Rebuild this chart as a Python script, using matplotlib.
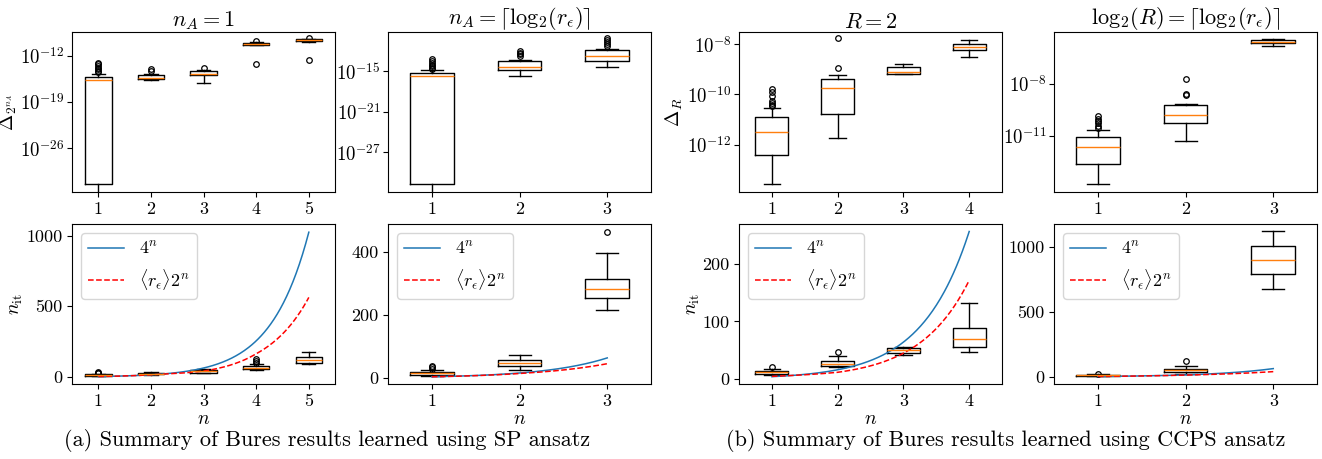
import numpy as np
import matplotlib
matplotlib.use("Agg")
import matplotlib.pyplot as plt

plt.rcParams["mathtext.fontset"] = "cm"
plt.rcParams["font.family"] = "serif"
plt.rcParams["font.serif"] = ["cmr10"]
plt.rcParams["axes.formatter.use_mathtext"] = True
plt.rcParams["axes.unicode_minus"] = False

# ---- top row: log10 of the Bures error ----
# SP ansatz, n_A = 1
sp1_med = [-15.7, -15.4, -14.7, -10.25, -9.7]
sp1_q1 = [-31.4, -15.6, -14.9, -10.35, -9.85]
sp1_q3 = [-15.2, -14.9, -14.3, -10.1, -9.5]
sp1_lo = [-40.0, -15.7, -16.2, -10.45, -9.9]
sp1_hi = [-14.8, -14.7, -14.1, -10.0, -9.45]
sp1_fl = [[-13.1, -13.3, -13.6, -13.8, -14.0, -14.3, -14.5], [-14.0, -14.3], [-13.9], [-9.85, -13.3], [-9.3, -12.65]]

# SP ansatz, n_A = ceil(log2 r)
sp2_med = [-15.7, -14.35, -12.7]
sp2_q1 = [-31.7, -14.8, -13.45]
sp2_q3 = [-15.2, -13.4, -11.85]
sp2_lo = [-40.0, -15.65, -14.4]
sp2_hi = [-14.85, -13.3, -11.75]
sp2_fl = [[-13.2, -13.5, -13.8, -14.0, -14.2, -14.5, -14.7], [-12.0, -12.3, -12.5, -12.8], [-10.0, -10.3, -10.6, -10.9, -11.2]]

# CCPS ansatz, R = 2
cc1_med = [-11.5, -9.74, -9.13, -8.11]
cc1_q1 = [-12.42, -10.77, -9.17, -8.23]
cc1_q3 = [-10.91, -9.38, -8.93, -8.0]
cc1_lo = [-13.56, -11.72, -9.19, -8.5]
cc1_hi = [-10.54, -9.23, -8.78, -7.85]
cc1_fl = [[-9.79, -9.92, -10.08, -10.28, -10.35, -10.41, -10.48], [-7.77, -8.95], [], []]

# CCPS ansatz, log2 R = ceil(log2 r)
cc2_med = [-11.66, -9.78, -5.54]
cc2_q1 = [-12.63, -10.26, -5.64]
cc2_q3 = [-11.06, -9.22, -5.45]
cc2_lo = [-13.81, -11.33, -5.77]
cc2_hi = [-10.67, -9.16, -5.37]
cc2_fl = [[-9.88, -10.02, -10.13, -10.27, -10.42, -10.54], [-7.69, -8.58, -8.65], []]

# ---- bottom row: number of iterations ----
it1_med = [12, 24, 40, 66, 118]
it1_q1 = [9, 19, 31, 56, 96]
it1_q3 = [21, 31, 49, 80, 144]
it1_lo = [5, 14, 28, 49, 89]
it1_hi = [24, 35, 54, 94, 174]
it1_fl = [[28, 32, 35], [], [], [101, 115, 129], []]
it1_reps = [2.0, 4.0, 5.3, 10.3, 17.6]

it2_med = [15, 48, 284]
it2_q1 = [11, 37, 253]
it2_q3 = [19, 56, 316]
it2_lo = [6, 25, 215]
it2_hi = [24, 72, 398]
it2_fl = [[29, 34, 39], [], [466]]
it2_reps = [2.0, 3.6, 5.7]

it3_med = [11.6, 26.6, 50, 70]
it3_q1 = [8.7, 21.7, 45, 55.5]
it3_q3 = [14.5, 30.6, 54, 89]
it3_lo = [7.5, 20.8, 41, 46]
it3_hi = [18, 40.5, 56, 132]
it3_fl = [[20], [47.4], [], []]
it3_reps = [2.3, 2.9, 5.6, 10.7]

it4_med = [13, 54, 895]
it4_q1 = [8, 38, 788]
it4_q3 = [18, 64, 1008]
it4_lo = [5, 26, 676]
it4_hi = [20, 87, 1117]
it4_fl = [[25], [125], []]
it4_reps = [2.0, 3.6, 5.1]


def make_stats(med, q1, q3, lo, hi, fl, log=False):
    f = (lambda v: 10.0 ** np.asarray(v, dtype=float)) if log else (lambda v: np.asarray(v, dtype=float))
    stats = []
    for i in range(len(med)):
        stats.append(dict(med=float(f(med[i])), q1=float(f(q1[i])), q3=float(f(q3[i])),
                          whislo=float(f(lo[i])), whishi=float(f(hi[i])), fliers=f(fl[i])))
    return stats


fig = plt.figure(figsize=(13.22, 4.59), dpi=100)

lefts = [0.0545, 0.2935, 0.559, 0.7973]
width = 0.199
top_b, bot_b, h = 0.5817, 0.1634, 0.3486

flierprops = dict(marker="o", markersize=4, markerfacecolor="none", markeredgecolor="k", markeredgewidth=0.9)
boxkw = dict(flierprops=flierprops, widths=0.5)

lg = r"\mathrm{log}_2"

# Top row
top = [
    (sp1_med, sp1_q1, sp1_q3, sp1_lo, sp1_hi, sp1_fl, (-32.6, -8.43), [-12, -19, -26], r"$n_A=1$", r"$\Delta_{2^{n_A}}$", -0.2),
    (sp2_med, sp2_q1, sp2_q3, sp2_lo, sp2_hi, sp2_fl, (-32.9, -9.17), [-15, -21, -27], r"$n_A=\lceil " + lg + r"(r_\epsilon)\rceil$", None, None),
    (cc1_med, cc1_q1, cc1_q3, cc1_lo, cc1_hi, cc1_fl, (-13.88, -7.52), [-8, -10, -12], r"$R=2$", r"$\Delta_R$", -0.205),
    (cc2_med, cc2_q1, cc2_q3, cc2_lo, cc2_hi, cc2_fl, (-14.27, -4.98), [-8, -11], r"$" + lg + r"(R)=\lceil " + lg + r"(r_\epsilon)\rceil$", None, None),
]
for k, (med, q1, q3, lo, hi, fl, ylim, yt, title, ylab, ylab_x) in enumerate(top):
    ax = fig.add_axes([lefts[k], top_b, width, h])
    ax.set_yscale("log")
    stats = make_stats(med, q1, q3, lo, hi, fl, log=True)
    ax.bxp(stats, positions=np.arange(1, len(med) + 1), **boxkw)
    ax.set_ylim(10.0 ** ylim[0], 10.0 ** ylim[1])
    ax.set_xlim(0.5, len(med) + 0.5)
    ax.set_yticks([10.0 ** t for t in yt])
    ax.set_yticklabels([r"$10^{%d}$" % t for t in yt])
    ax.minorticks_off()
    ax.tick_params(axis="x", labelsize=13)
    ax.tick_params(axis="y", labelsize=13.5, pad=2)
    ax.set_title(title, fontsize=16, pad=3)
    if ylab:
        ax.set_ylabel(ylab, fontsize=14)
        ax.yaxis.set_label_coords(ylab_x, 0.5)

# Bottom row
bottom = [
    (it1_med, it1_q1, it1_q3, it1_lo, it1_hi, it1_fl, it1_reps, (-49, 1082), [0, 500, 1000], -0.18),
    (it2_med, it2_q1, it2_q3, it2_lo, it2_hi, it2_fl, it2_reps, (-19, 490), [0, 200, 400], None),
    (it3_med, it3_q1, it3_q3, it3_lo, it3_hi, it3_fl, it3_reps, (-8.7, 269), [0, 100, 200], -0.14),
    (it4_med, it4_q1, it4_q3, it4_lo, it4_hi, it4_fl, it4_reps, (-54, 1173), [0, 500, 1000], None),
]
for k, (med, q1, q3, lo, hi, fl, reps, ylim, yt, ylab_x) in enumerate(bottom):
    ax = fig.add_axes([lefts[k], bot_b, width, h])
    ns = np.arange(1, len(med) + 1)
    stats = make_stats(med, q1, q3, lo, hi, fl)
    ax.bxp(stats, positions=ns, **boxkw)
    nn = np.linspace(1, len(med), 200)
    r_fine = 2.0 ** np.interp(nn, ns, np.log2(reps))
    ax.plot(nn, 4.0 ** nn, color="tab:blue", lw=1.1, label=r"$4^n$")
    ax.plot(nn, r_fine * 2.0 ** nn, color="red", lw=1.1, ls="--", label=r"$\langle r_\epsilon\rangle 2^n$")
    ax.set_ylim(*ylim)
    ax.set_xlim(0.5, len(med) + 0.5)
    ax.set_yticks(yt)
    ax.set_yticklabels([str(t) for t in yt])
    ax.tick_params(labelsize=13)
    ax.set_xlabel(r"$n$", fontsize=14, labelpad=1)
    if ylab_x is not None:
        ax.set_ylabel(r"$n_{\rm it}$", fontsize=14)
        ax.yaxis.set_label_coords(ylab_x, 0.5)
    ax.legend(loc="upper left", fontsize=13)

fig.text(0.2475, 0.041, "(a) Summary of Bures results learned using SP ansatz", ha="center", va="center", fontsize=16)
fig.text(0.761, 0.041, "(b) Summary of Bures results learned using CCPS ansatz", ha="center", va="center", fontsize=16)

fig.savefig("out.png", dpi=100)
